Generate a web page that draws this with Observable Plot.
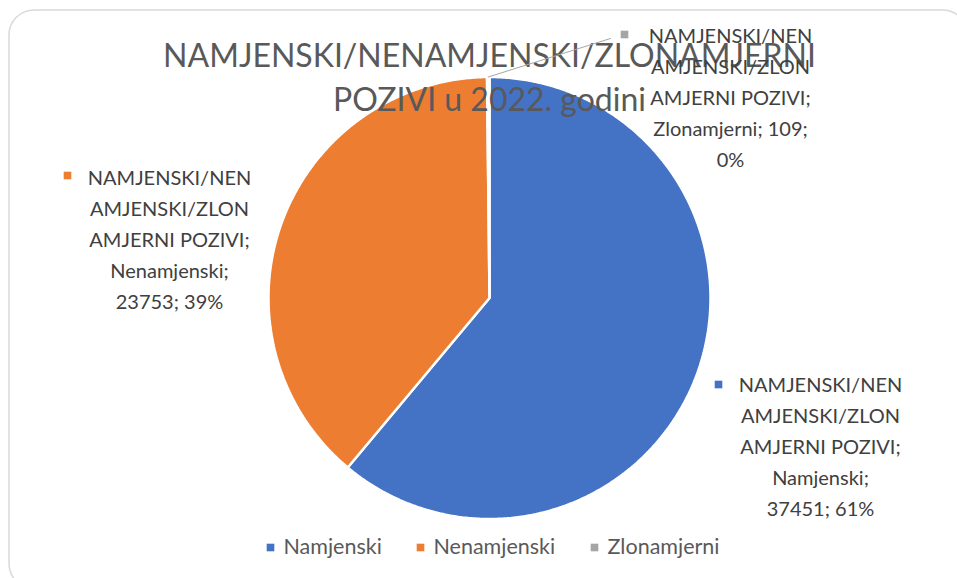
<!DOCTYPE html>
<html>
<head>
<meta charset="utf-8">
<script src="https://cdn.jsdelivr.net/npm/d3@7"></script>
<script src="https://cdn.jsdelivr.net/npm/@observablehq/plot@0.6"></script>
<style>
  html, body { margin: 0; padding: 0; background: #ffffff; }
  #chart svg { display: block; }
</style>
</head>
<body>
<div id="chart"></div>
<script>
// ---- Data ----
const title = "NAMJENSKI/NENAMJENSKI/ZLONAMJERNI POZIVI u 2022. godini";
const seriesName = "NAMJENSKI/NENAMJENSKI/ZLONAMJERNI POZIVI";
const categories = ["Namjenski", "Nenamjenski", "Zlonamjerni"];
const values = [37451, 23753, 109];
const percents = ["61%", "39%", "0%"];
const colors = ["#4472C4", "#ED7D31", "#A5A5A5"];

// ---- Layout ----
const W = 957, H = 578;
const cx = 489, cy = 297.5, R = 221;
const X = px => (px - cx) / R;
const Y = py => (cy - py) / R;
const FONT = "Lato, 'Open Sans', sans-serif";

// pie slice polygons (clockwise from 12 o'clock)
const total = d3.sum(values);
const slices = [];
const pieRows = [];
let acc = 0;
categories.forEach((c, i) => {
  const a0 = acc / total * 2 * Math.PI;
  acc += values[i];
  const a1 = acc / total * 2 * Math.PI;
  slices.push({cat: c, a0, a1, mid: (a0 + a1) / 2});
  pieRows.push({cat: c, u: 0, v: 0});
  const n = Math.max(2, Math.ceil((a1 - a0) / (Math.PI / 360)));
  for (let k = 0; k <= n; k++) {
    const a = a0 + (a1 - a0) * k / n;
    pieRows.push({cat: c, u: Math.sin(a), v: Math.cos(a)});
  }
});

// data labels (Excel-style wrapping)
function labelLines(i) {
  const head = ["NAMJENSKI/NEN", "AMJENSKI/ZLON", "AMJERNI POZIVI;"];
  if (i === 2) return [...head, `${categories[i]}; ${values[i]};`, percents[i]];
  return [...head, `${categories[i]};`, `${values[i]}; ${percents[i]}`];
}
const labelPos = [
  {cx: 820, cy: 444, mx: 718, my: 384},
  {cx: 169, cy: 237, mx: 67, my: 175},
  {cx: 730, cy: 95, mx: 624, my: 34}
];
const labels = categories.map((c, i) => ({
  cat: c,
  text: labelLines(i).join("\n"),
  x: X(labelPos[i].cx), y: Y(labelPos[i].cy),
  mx: X(labelPos[i].mx), my: Y(labelPos[i].my)
}));

// leader line for tiny slice
const gs = slices[2];
const leader = [
  {u: Math.sin(gs.mid) * 1.0, v: Math.cos(gs.mid) * 1.0},
  {u: X(610), v: Y(38)}
];

// legend
const legendX = [270, 420, 594];
const legend = categories.map((c, i) => ({cat: c, x: X(legendX[i]), tx: X(legendX[i] + 13), y: Y(547)}));

const chart = Plot.plot({
  width: W,
  height: H,
  margin: 0,
  x: {domain: [X(0), X(W)], range: [0, W], axis: null},
  y: {domain: [Y(H), Y(0)], range: [H, 0], axis: null},
  color: {domain: categories, range: colors},
  style: {fontFamily: FONT, background: "#ffffff"},
  marks: [
    Plot.frame({rx: 25, stroke: "#d9d9d9", strokeWidth: 1.5, insetLeft: 8.5, insetTop: 9.5, insetRight: -10, insetBottom: -10}),
    Plot.line(pieRows, {x: "u", y: "v", z: "cat", fill: "cat", stroke: "#ffffff", strokeWidth: 2.5, curve: "linear-closed", strokeLinejoin: "miter"}),
    Plot.text([title.replace(" POZIVI", "\nPOZIVI")], {x: X(489), y: Y(74), text: d => d, fontSize: 32, fill: "#595959", lineHeight: 1.38, textAnchor: "middle"}),
    Plot.line(leader, {x: "u", y: "v", stroke: "#a6a6a6", strokeWidth: 1}),
    Plot.dot(labels, {x: "mx", y: "my", symbol: "square", r: 4.3, fill: "cat", stroke: null}),
    Plot.text(labels, {x: "x", y: "y", text: "text", fontSize: 20, lineHeight: 1.55, fill: "#404040", textAnchor: "middle"}),
    Plot.dot(legend, {x: "x", y: "y", symbol: "square", r: 4.3, fill: "cat", stroke: null}),
    Plot.text(legend, {x: "tx", y: "y", text: "cat", fontSize: 21.5, fill: "#595959", textAnchor: "start"})
  ]
});
document.getElementById("chart").appendChild(chart);
</script>
</body>
</html>
